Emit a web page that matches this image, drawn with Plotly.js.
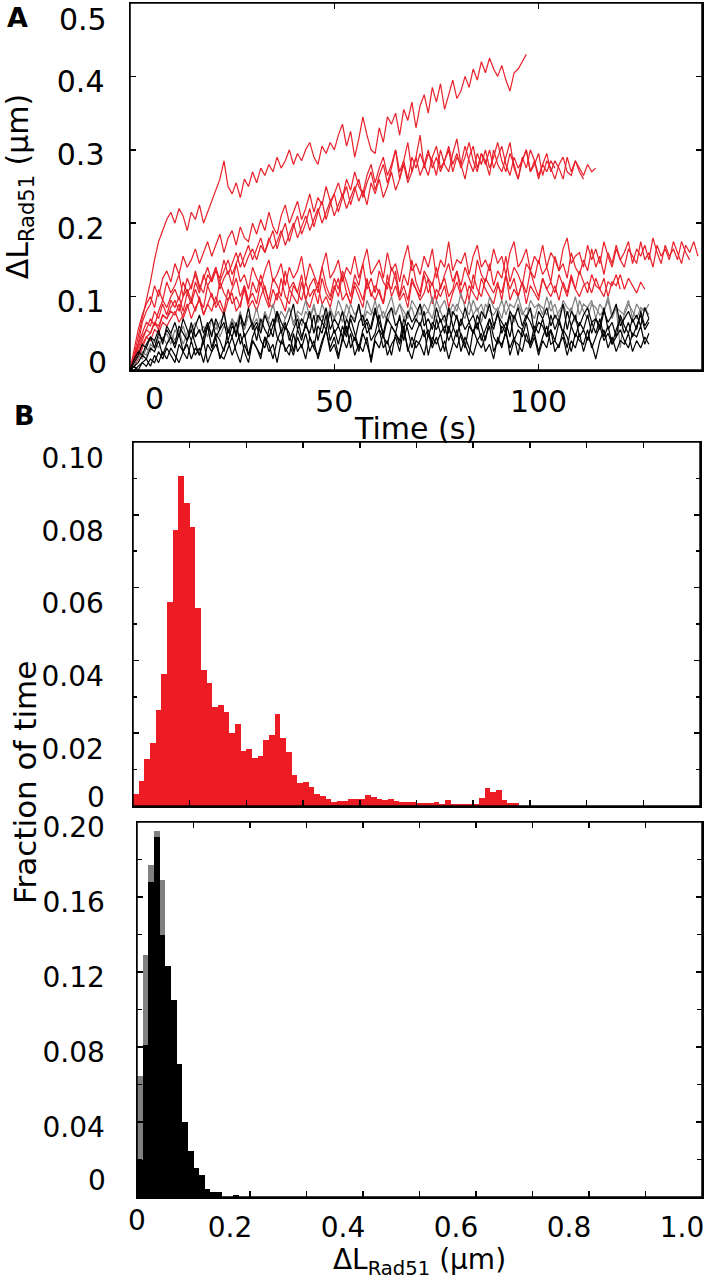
<!DOCTYPE html>
<html>
<head>
<meta charset="utf-8">
<script src="https://cdn.plot.ly/plotly-3.0.1.min.js"></script>
<style>html,body{margin:0;padding:0;background:#fff;}#chart{width:708px;height:1280px;}</style>
</head>
<body>
<div id="chart"></div>
<script>
// ---------- Panel A: time traces, values in nm (converted to µm), sampled every 1 s from t = 0 ----------
const red1 = [0,20,45,70,95,120,150,175,190,205,215,
200,220,210,190,215,205,225,200,215,230,
245,260,285,250,240,255,235,260,250,270,
255,275,265,280,270,290,275,285,300,280,
295,285,300,310,290,280,305,295,310,300,
320,335,305,325,290,315,345,320,300,295,
330,310,345,335,350,320,355,340,365,330,
360,375,350,385,365,390,355,375,395,370,
380,400,385,410,395,420,405,425,410,400,
415,395,380,405,410,420,430];
const red2 = [0,20,35,65,80,90,115,100,125,135,120,
145,130,155,140,150,165,145,160,175,155,
170,185,160,180,190,170,195,180,175,200,
185,205,190,215,195,185,210,225,200,215,
230,205,220,240,215,235,225,250,230,240,
255,235,260,245,270,250,240,265,280,255,
275,290,265,280,300,270,285,260,290,275,
295,280,265,290,305,275,285,300,270,290,
280,305,285,270,295,280,300,275,290,310,
285,270,295,280,260,290,275,300,285,265,
280,295,270,285,275,260,290,270,285,275,
265,280,270,275];
const red3 = [0,10,25,40,55,70,60,80,95,85,100,
110,95,120,105,115,130,110,125,140,120,
135,125,150,130,145,160,140,155,170,150,
165,180,160,175,190,165,185,200,175,195,
210,185,200,220,195,215,230,205,225,240,
215,235,250,225,245,260,235,255,270,245,
265,280,255,275,300,260,285,310,270,290,
320,275,295,285,265,300,280,270,295,315,
280,260,290,305,275,295,285,265,300,280,
270,290,310,275,260,285,300,270,280,295,
265,285,275,260,280,290,270,265,285,270,
260];
const red4 = [0,5,15,30,45,50,65,55,75,70,85,
95,80,100,110,95,120,105,130,115,125,
140,120,135,150,130,145,160,140,155,165,
150,170,160,180,165,175,190,170,185,200,
180,195,210,190,205,220,200,215,230,210,
225,240,220,235,250,230,245,225,255,240,
260,235,250,270,245,260,280,255,270,290,
265,280,300,275,290,270,285,305,280,295,
275,290,310,285,270,295,280,300,275,290,
305,280,265,290,275,285,300,270,285,260,
280,270,285,275];
const red5 = [0,30,55,75,90,100,85,110,95,120,105,
115,130,100,125,110,135,115,105,130,120,
140,110,125,135,115,145,120,130,110,140,
125,115,135,150,120,130,145,115,140,125,
135,155,120,145,130,115,140,160,125,135,
150,120,140,130,155,125,145,165,130,140,
150,125,160,135,145,120,150,170,135,145,
130,155,140,165,125,150,140,175,135,150,
145,160,130,155,170,140,150,135,165,145,
155,130,160,175,140,150,165,135,155,145,
170,140,160,150,135,165,180,145,155,160,
140,170,150,165,145,175,155,140,165,150,
160,175,145,165,155,170,150,180,160,145,
170,155,165,150,175,160,150];
const red6 = [0,15,35,50,65,60,80,70,90,75,95,
85,100,80,105,90,110,95,85,115,100,
90,120,105,95,110,125,100,115,90,120,
105,130,110,95,125,115,100,135,110,120,
105,130,95,115,125,105,140,115,100,125,
110,135,120,100,130,115,145,110,125,105,
135,120,110,140,125,100,130,115,150,120,
105,135,125,115,140,110,130,145,120,135,
115,140,125,110,150,130,120,145,115,135,
125,155,120,140,130,115,145,135,125,150,
130,140,120,155,135,145,125,160,140,130,
150,135,165,140,155,130,160,145,170,150,
140,165,155,145,175,150,160,140,170,155,
165,150,175,160,145,170,160,175,155];
const red7 = [0,10,20,35,45,40,55,50,65,60,70,
80,65,75,90,70,85,95,75,90,80,
100,85,75,95,105,80,90,110,85,95,
80,100,115,90,85,105,95,80,110,100,
90,120,95,85,105,115,90,100,85,110,
125,95,105,90,115,100,85,120,105,95,
110,90,130,100,115,95,105,85,120,110,
95,105,125,90,110,100,115,85,105,120,
100,90,115,105,95,125,110,100,90,115,
105,130,95,110,100,120,90,115,105,95,
125,110,100,115,95,120,105,130,110,100,
115,120,105,125,110,100,120,115,130,110];
const red8 = [0,15,30,45,55,50,65,60,75,70,80,
75,90,70,85,95,80,100,75,90,105,
85,95,80,110,90,100,85,115,95,105,
90,120,100,85,110,95,125,100,90,115,
105,95,120,100,110,90,125,105,95,115,
100,130,105,90,120,110,95,125,100,115,
105,90,120,110,135,100,115,95,125,110,
100,130,105,120,95,115,125,100,110,135,
105,120,95,130,110,100,125,115,105,120,
95,130,110,125,100,120,105,135,115,100,
125,110,120,105,130,115,100,125,110,135,
120,105,130,115,110,125,100,120,115,130,
110,125,115,105,120,110];
const gray1 = [0,10,15,25,20,35,30,45,40,50,35,
55,45,60,40,55,65,50,60,45,70,
55,65,75,50,70,60,80,55,75,65,
85,60,75,70,90,65,80,70,85,60,
80,75,95,70,85,65,90,75,80,70,
95,80,70,90,75,85,65,95,80,75,
90,70,85,100,75,90,80,70,95,85,
75,90,80,100,70,85,95,75,90,80,
105,85,75,95,80,90,70,100,85,80,
95,75,90,85,100,80,70,95,85,90,
75,100,80,90,70,95,85,80,100,75,
90,85,95,70,90,80,100,75,85,30,
80,95,70,90,80,85,75];
const gray2 = [0,5,20,15,30,25,40,30,45,35,50,
40,55,35,50,60,45,55,40,60,50,
65,45,60,55,70,50,65,55,75,60,
70,55,80,65,60,75,55,70,85,65,
75,60,80,70,90,65,75,60,85,70,
80,65,90,75,70,85,65,80,75,95,
70,80,65,85,75,90,70,80,85,65,
90,75,80,70,95,80,65,85,75,90,
80,70,95,75,85,65,90,80,75,85,
70,95,80,65,90,75,85,80,70,90,
85,75,95,70,80,90,75,85,65,95,
80,70,90,85,75,80,95,70,85,80,
75,90,80,70,85,80,90];
const black1 = [0,5,10,20,15,30,25,40,20,35,45,
30,50,25,40,55,35,20,45,60,30,
50,40,25,55,45,65,35,50,20,45,
60,40,30,55,70,45,35,60,50,25,
55,40,65,45,30,60,50,75,40,55,
35,60,45,70,50,30,55,65,40,50,
75,45,35,60,50,40,70,55,30,50,
65,45,55,35,70,50,60,40,55,75,
45,30,60,50,65,40,55,70,45,35,
60,50,75,40,55,45,65,35,60,50,
70,45,55,40,65,50,30,60,75,45,
55,40,65,50,70,45,60,35,55,70,
50,65,45,60,75,55,65];
const black2 = [0,0,5,10,5,15,10,25,15,30,20,
10,35,25,15,40,20,30,10,35,25,
45,15,30,40,20,35,50,25,10,40,
30,20,45,35,15,40,55,25,35,20,
45,30,50,25,40,15,35,55,30,45,
20,40,60,30,45,25,50,35,15,45,
55,30,40,20,50,35,60,25,45,30,
40,55,20,45,35,50,25,60,40,30,
50,35,20,55,40,30,45,60,25,40,
35,50,30,45,20,55,40,35,50,25,
45,60,35,40,30,55,45,25,50,40,
35,55,30,45,60,40,50,35,45,55,
40,30,50,45,60,35,50];
const black3 = [0,10,20,35,30,45,40,55,35,60,50,
65,45,70,55,40,60,75,50,65,45,
70,55,80,50,65,45,75,60,85,55,
65,50,75,60,45,80,65,55,70,90,
55,70,60,80,50,75,65,85,55,70,
60,80,50,75,65,90,60,70,55,80,
65,50,75,85,60,70,55,80,65,75,
90,60,70,55,85,65,75,50,80,70,
60,85,65,75,55,80,70,90,60,75,
65,55,80,70,85,60,75,65,50,80,
70,85,60,75,65,90,55,80,70,60,
75,85,65,70,55,80,65,75,90,60,
70,80,65,75,60,85,70];
const black4 = [0,5,0,10,15,5,20,10,25,15,30,
20,10,25,35,15,30,20,40,10,25,
35,20,15,30,45,25,10,35,20,40,
30,15,45,25,35,10,40,30,20,50,
25,35,15,45,30,20,40,55,25,35,
15,45,30,50,20,35,25,45,10,40,
30,50,20,35,45,25,55,30,15,40,
35,20,50,30,45,25,40,15,35,55,
25,45,30,20,40,50,25,35,15,45,
30,55,20,40,35,25,50,30,45,20,
40,30,55,25,35,45,20,40,30,50,
25,45,35,15,40,55,30,45,25,40,
35,50,25,40,30,45,35];
const black5 = [0,15,25,20,35,45,30,50,40,55,45,
35,60,50,40,65,45,55,35,60,70,
45,55,65,40,60,50,75,45,55,65,
40,70,55,45,60,80,50,65,40,55,
70,45,60,50,75,40,65,55,80,50,
60,45,70,55,40,65,75,50,60,85,
55,45,70,60,50,75,40,65,55,70,
60,80,45,65,55,70,50,85,60,45,
70,55,65,50,75,60,40,70,55,80,
50,65,45,75,60,55,70,85,50,65,
60,45,75,55,70,50,80,60,45,65,
55,75,50,70,60,85,55,65,45,75,
60,50,70,55,80,60,70];

// ---------- Panel B: histograms (fraction of time per 0.01 µm bin, starting at 0) ----------
const binWidth = 0.01;
const histRad51 = [0.0032,0.0069,0.0128,0.0172,0.0264,0.0364,0.0561,0.0758,0.0907,0.0833,
0.0766,0.0543,0.0374,0.0337,0.0273,0.0277,0.0259,0.0200,0.0225,0.0152,
0.0156,0.0133,0.0137,0.0181,0.0195,0.0252,0.0186,0.0149,0.0085,0.0062,
0.0067,0.0053,0.0032,0.0027,0.0018,0.0012,0.0015,0.0015,0.0018,0.0018,
0.0020,0.0030,0.0026,0.0020,0.0016,0.0018,0.0015,0.0012,0.0010,0.0010,
0.0008,0.0008,0.0008,0.0010,0.0006,0.0016,0.0006,0.0006,0.0006,0.0006,
0.0006,0.0023,0.0049,0.0039,0.0043,0.0016,0.0007,0.0007];
const histGray = [0.0645,0.129,0.177,0.195,0.169,0.115,0.095,0.062,0.035,0.020,0.012,0.008,0.003,0.002,0.001,0,0,0];
const histBlack = [0.020,0.081,0.168,0.192,0.140,0.123,0.105,0.071,0.040,0.0245,0.0156,0.012,0.0044,0.0027,0.0027,0,0,0.001];

const timeTicks = [50, 100];
const dLTicks = [0.1, 0.2, 0.3, 0.4];
const histTopTicks = [0.02, 0.04, 0.06, 0.08, 0.10];
const histTopMinor = [0.01, 0.03, 0.05, 0.07, 0.09];
const histBotTicks = [0.04, 0.08, 0.12, 0.16, 0.20];
const histBotMinor = [0.02, 0.06, 0.10, 0.14, 0.18];
const xTicksB = [0.2, 0.4, 0.6, 0.8, 1.0];
const xMinorB = [0.1, 0.3, 0.5, 0.7, 0.9];

// ---------- styling ----------
const W = 708, H = 1280;
const RED = '#e8202a', GRAY = '#808080', BLACK = '#000000';
const FONT = 'DejaVu Sans';
const px = v => v / W;
const py = v => 1 - v / H;
const nm = a => a.map(v => v / 1000);
const centers = a => a.map((_, i) => binWidth * (i + 0.5));

function lineTrace(vals, color) {
  return {type: 'scatter', mode: 'lines', x0: 0, dx: 1, y: nm(vals),
          xaxis: 'x', yaxis: 'y', line: {color: color, width: 1.2}, hoverinfo: 'skip'};
}

const traces = [
  lineTrace(red5, RED), lineTrace(red6, RED), lineTrace(red7, RED), lineTrace(red8, RED),
  lineTrace(red2, RED), lineTrace(red3, RED), lineTrace(red4, RED), lineTrace(red1, RED),
  lineTrace(gray1, GRAY), lineTrace(gray2, GRAY),
  lineTrace(black1, BLACK), lineTrace(black2, BLACK), lineTrace(black3, BLACK),
  lineTrace(black4, BLACK), lineTrace(black5, BLACK),
  {type: 'bar', x: centers(histRad51), y: histRad51, width: binWidth, xaxis: 'x2', yaxis: 'y2',
   marker: {color: '#ed1c24', line: {width: 0}}},
  {type: 'bar', x: centers(histGray), y: histGray, width: binWidth, xaxis: 'x3', yaxis: 'y3',
   marker: {color: GRAY, line: {width: 0}}},
  {type: 'bar', x: centers(histBlack), y: histBlack, width: binWidth, xaxis: 'x3', yaxis: 'y3',
   marker: {color: BLACK, line: {width: 0}}}
];

const tickFontA = {family: FONT, size: 30, color: '#000'};
const tickFontB = {family: FONT, size: 28, color: '#000'};
const frame = {showline: true, linecolor: '#000', linewidth: 1.5, mirror: 'ticks',
  ticks: 'inside', ticklen: 6, tickwidth: 1.5, tickcolor: '#000',
  showgrid: false, zeroline: false, ticklabeloverflow: 'allow'};

function box(xr, yr) {
  return {type: 'rect', xref: xr + ' domain', yref: yr + ' domain', x0: 0, x1: 1, y0: 0, y1: 1,
          line: {color: '#000', width: 1.5}, fillcolor: 'rgba(0,0,0,0)', layer: 'above'};
}

const layout = {
  width: W, height: H, margin: {l: 0, r: 0, t: 0, b: 0},
  paper_bgcolor: '#fff', plot_bgcolor: '#fff', showlegend: false,
  barmode: 'overlay', bargap: 0,
  font: {family: FONT, color: '#000'},
  xaxis: Object.assign({}, frame, {domain: [px(130), px(702)], range: [0, 140], anchor: 'y',
    tickmode: 'array', tickvals: timeTicks, tickfont: tickFontA, ticklabelstandoff: 4,
    title: {text: 'Time (s)', font: {family: FONT, size: 30, color: '#000'}, standoff: 0}}),
  yaxis: Object.assign({}, frame, {domain: [py(370), py(3)], range: [0, 0.5], anchor: 'x',
    tickmode: 'array', tickvals: dLTicks, tickfont: tickFontA, ticklabelshift: 5, ticklabelstandoff: 18,
    minor: {tickmode: 'array', tickvals: [0.5], ticks: 'inside', ticklen: 6, tickcolor: '#000', showgrid: false},
    title: {text: 'ΔL<sub>Rad51</sub> (μm)', font: {family: FONT, size: 30, color: '#000'}, standoff: 22}}),
  xaxis2: Object.assign({}, frame, {domain: [px(133), px(700)], range: [0, 1], anchor: 'y2',
    tickmode: 'linear', tick0: 0, dtick: 0.1, showticklabels: false}),
  yaxis2: Object.assign({}, frame, {domain: [py(806), py(442)], range: [0, 0.1], anchor: 'x2',
    tickmode: 'array', tickvals: histTopTicks, tickformat: '.2f', tickfont: tickFontB,
    ticklabelshift: 16, ticklabelstandoff: 22,
    minor: {tickmode: 'array', tickvals: histTopMinor, ticks: 'inside', ticklen: 4, tickcolor: '#000', showgrid: false}}),
  xaxis3: Object.assign({}, frame, {domain: [px(137), px(702)], range: [0, 1], anchor: 'y3',
    tickmode: 'array', tickvals: xTicksB, tickformat: '.1f', tickfont: tickFontB,
    ticklabelshift: -20, ticklabelstandoff: 5,
    minor: {tickmode: 'array', tickvals: xMinorB, ticks: 'inside', ticklen: 6, tickcolor: '#000', showgrid: false},
    title: {text: 'ΔL<sub>Rad51</sub> (μm)', font: {family: FONT, size: 28, color: '#000'}, standoff: 6}}),
  yaxis3: Object.assign({}, frame, {domain: [py(1197), py(822)], range: [0, 0.2], anchor: 'x3',
    tickmode: 'array', tickvals: histBotTicks, tickformat: '.2f', tickfont: tickFontB,
    ticklabelshift: 5, ticklabelstandoff: 25,
    minor: {tickmode: 'array', tickvals: histBotMinor, ticks: 'inside', ticklen: 5, tickcolor: '#000', showgrid: false}}),
  shapes: [box('x', 'y'), box('x2', 'y2'), box('x3', 'y3')],
  annotations: [
    {text: '<b>A</b>', xref: 'paper', yref: 'paper', x: px(17), y: py(17), xanchor: 'center', yanchor: 'middle',
     showarrow: false, font: {family: FONT, size: 27, color: '#000'}},
    {text: '<b>B</b>', xref: 'paper', yref: 'paper', x: px(24), y: py(415), xanchor: 'center', yanchor: 'middle',
     showarrow: false, font: {family: FONT, size: 27, color: '#000'}},
    {text: '0.5', xref: 'paper', yref: 'paper', x: px(109), y: py(19), xanchor: 'right', yanchor: 'middle',
     showarrow: false, font: tickFontA},
    {text: '0', xref: 'paper', yref: 'paper', x: px(154), y: py(398), xanchor: 'center', yanchor: 'middle',
     showarrow: false, font: tickFontA},
    {text: '0', xref: 'paper', yref: 'paper', x: px(109), y: py(362), xanchor: 'right', yanchor: 'middle',
     showarrow: false, font: tickFontA},
    {text: '0', xref: 'paper', yref: 'paper', x: px(107), y: py(797), xanchor: 'right', yanchor: 'middle',
     showarrow: false, font: tickFontB},
    {text: '0', xref: 'paper', yref: 'paper', x: px(108), y: py(1180), xanchor: 'right', yanchor: 'middle',
     showarrow: false, font: tickFontB},
    {text: '0', xref: 'paper', yref: 'paper', x: px(137), y: py(1220), xanchor: 'center', yanchor: 'middle',
     showarrow: false, font: tickFontB},
    {text: 'Fraction of time', xref: 'paper', yref: 'paper', x: px(25), y: py(783), xanchor: 'center', yanchor: 'middle',
     textangle: -90, showarrow: false, font: {family: FONT, size: 31, color: '#000'}}
  ]
};

Plotly.newPlot('chart', traces, layout, {staticPlot: true, displayModeBar: false});
</script>
</body>
</html>
